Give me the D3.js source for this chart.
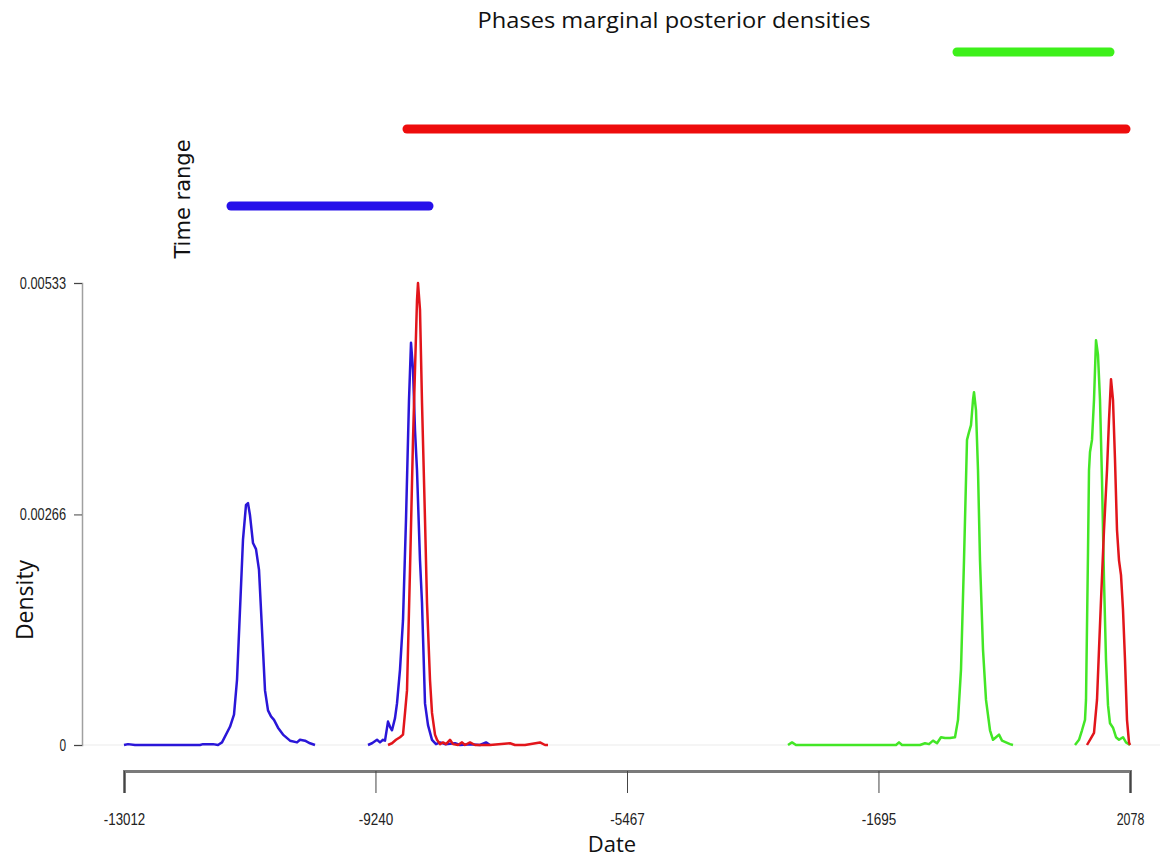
<!DOCTYPE html>
<html><head><meta charset="utf-8">
<script src="https://cdn.jsdelivr.net/npm/d3@7/dist/d3.min.js"></script>
<style>
body{margin:0;background:#fff;}
svg{display:block;}
.tick text{font-family:"Liberation Sans Narrow","Arial Narrow","Liberation Sans",sans-serif;fill:#222;}
</style></head>
<body>
<svg id="c" width="1167" height="860"></svg>
<script>
// ---- Data ----
const xTicks = [-13012, -9240, -5467, -1695, 2078];
const yTicks = [0, 0.00266, 0.00533];
const xDomain = [-13012, 2078];
const yDomain = [0, 0.00533];

// time ranges [start, end]
const rangeBlue  = [-11407, -8437];
const rangeRed   = [-8767, 2018];
const rangeGreen = [-517, 1778];

// densities [date, density]
const blueA = [[-13012,0],[-12952,0.00001],[-12847,0],[-12472,0],[-11872,0],[-11827,0.00001],[-11677,0.00001],[-11602,0],[-11542,0.00003],[-11422,0.00021],[-11362,0.00035],[-11317,0.00075],[-11272,0.00156],[-11227,0.00237],[-11182,0.00277],[-11152,0.00279],[-11122,0.00265],[-11077,0.00233],[-11032,0.00226],[-10987,0.00202],[-10942,0.00133],[-10897,0.00063],[-10852,0.0004],[-10807,0.00033],[-10762,0.00029],[-10702,0.0002],[-10627,0.00012],[-10522,0.00005],[-10417,0.00003],[-10372,0.00006],[-10297,0.00005],[-10222,0.00002],[-10147,0]];
const blueB = [[-9352,0],[-9292,0.00002],[-9217,0.00006],[-9172,0.00003],[-9127,0.00006],[-9097,0.00005],[-9052,0.00027],[-9022,0.00021],[-8992,0.00017],[-8947,0.00031],[-8917,0.00048],[-8872,0.00087],[-8827,0.00144],[-8782,0.0026],[-8737,0.00398],[-8707,0.00464],[-8677,0.00433],[-8647,0.00363],[-8617,0.00317],[-8572,0.00213],[-8542,0.00164],[-8497,0.00048],[-8452,0.00023],[-8392,0.00006],[-8332,0.00001],[-8272,0.00003],[-8197,0.00001],[-8047,0.00002],[-7972,0],[-7822,0.00001],[-7672,0],[-7582,0.00003],[-7522,0]];
const redA = [[-9052,0],[-8992,0.00002],[-8932,0.00006],[-8872,0.00009],[-8827,0.00012],[-8797,0.00037],[-8767,0.00063],[-8722,0.00202],[-8677,0.00352],[-8647,0.00433],[-8617,0.00513],[-8602,0.00533],[-8572,0.00502],[-8542,0.00395],[-8497,0.0026],[-8467,0.00164],[-8422,0.00075],[-8392,0.00037],[-8347,0.00012],[-8317,0.00006],[-8272,0.00001],[-8227,0.00003],[-8182,0.00001],[-8122,0.00006],[-8077,0.00001],[-8002,0],[-7942,0.00003],[-7897,0],[-7822,0.00003],[-7747,0],[-7522,0],[-7222,0.00002],[-7147,0],[-6997,0],[-6772,0.00003],[-6697,0],[-6652,0]];
const greenA = [[-3052,0],[-2992,0.00003],[-2932,0],[-2572,0],[-2122,0],[-1672,0],[-1432,0],[-1387,0.00003],[-1342,0],[-1072,0],[-997,0.00002],[-937,0.00001],[-877,0.00005],[-817,0.00002],[-757,0.00009],[-697,0.00008],[-622,0.00008],[-547,0.00009],[-502,0.00029],[-457,0.00087],[-412,0.00213],[-367,0.00352],[-337,0.00361],[-307,0.00369],[-277,0.00398],[-262,0.00407],[-232,0.00386],[-202,0.00317],[-172,0.00213],[-127,0.0011],[-82,0.00052],[-22,0.00017],[23,0.00006],[68,0.00009],[113,0.00012],[158,0.00005],[218,0.00003],[278,0.00001],[323,0]];
const greenB = [[1253,0],[1313,0.00006],[1358,0.00017],[1403,0.00029],[1418,0.00052],[1448,0.00222],[1463,0.00317],[1478,0.00338],[1508,0.00352],[1538,0.00398],[1568,0.00467],[1598,0.0045],[1628,0.00398],[1658,0.00306],[1688,0.0019],[1718,0.00098],[1748,0.00046],[1778,0.00025],[1823,0.0002],[1868,0.00009],[1913,0.00006],[1973,0.00009],[2018,0.00003],[2078,0]];
const redB = [[1433,0],[1493,0.00008],[1538,0.00014],[1583,0.00052],[1613,0.0011],[1643,0.00167],[1688,0.00248],[1733,0.00317],[1763,0.00375],[1793,0.00422],[1823,0.00398],[1853,0.00329],[1883,0.00248],[1913,0.00213],[1943,0.00196],[1973,0.00156],[2003,0.00098],[2033,0.00029],[2063,0.00003],[2078,0]];

// ---- Drawing ----
const svg = d3.select("#c");
const x = d3.scaleLinear().domain(xDomain).range([124, 1130]);
const y = d3.scaleLinear().domain(yDomain).range([745, 283]);

const BLUE = "#2a16d8", RED = "#e2151b", GREEN = "#43e626";
const BLUEBAR = "#2610ea", REDBAR = "#ee0c0c", GREENBAR = "#3df01a";

// title
svg.append("text").attr("x", 674).attr("y", 28).attr("text-anchor", "middle")
  .attr("font-family", "'Open Sans', sans-serif").attr("font-size", 21)
  .attr("textLength", 393).attr("lengthAdjust", "spacingAndGlyphs")
  .attr("fill", "#111").text("Phases marginal posterior densities");

// time range bars
const bars = [[rangeGreen, 52, GREENBAR], [rangeRed, 129, REDBAR], [rangeBlue, 206, BLUEBAR]];
svg.selectAll("line.bar").data(bars).enter().append("line").attr("class", "bar")
  .attr("x1", d => x(d[0][0])).attr("x2", d => x(d[0][1]))
  .attr("y1", d => d[1]).attr("y2", d => d[1])
  .attr("stroke", d => d[2]).attr("stroke-width", 9).attr("stroke-linecap", "round");

svg.append("text").attr("transform", "translate(190,199) rotate(-90)")
  .attr("text-anchor", "middle").attr("font-family", "'DejaVu Sans', Verdana, sans-serif")
  .attr("font-size", 21).attr("fill", "#111").text("Time range");

// baseline
svg.append("line").attr("x1", 82).attr("x2", 1160).attr("y1", y(0)).attr("y2", y(0))
  .attr("stroke", "#ececec").attr("stroke-width", 1.2);

// y axis
const yAxis = svg.append("g").attr("transform", "translate(82,0)")
  .call(d3.axisLeft(y).tickValues(yTicks).tickSizeOuter(0).tickSize(8).tickPadding(8)
    .tickFormat(d => d === 0 ? "0" : d.toFixed(5)));
yAxis.select(".domain").attr("stroke", "#a0a0a0").attr("stroke-width", 1.5);
yAxis.selectAll(".tick line").attr("stroke", "#444").attr("stroke-width", 1);
yAxis.selectAll(".tick text").style("font-size", "16px").each(function(){
  const t = d3.select(this); const n = t.text().length;
  t.attr("textLength", n * 6.6).attr("lengthAdjust", "spacingAndGlyphs");
});

// x axis
const xAxis = svg.append("g").attr("transform", "translate(0,771)")
  .call(d3.axisBottom(x).tickValues(xTicks).tickSizeOuter(0).tickSize(22).tickPadding(20)
    .tickFormat(d => String(d)));
xAxis.select(".domain").attr("stroke", "#7a7a7a").attr("stroke-width", 3);
xAxis.selectAll(".tick line").attr("stroke", "#444").attr("stroke-width", 1);
xAxis.selectAll(".tick text").style("font-size", "17px").each(function(){
  const t = d3.select(this); const n = t.text().length;
  t.attr("textLength", n * 6.9).attr("lengthAdjust", "spacingAndGlyphs");
});

// axis titles
svg.append("text").attr("x", 612).attr("y", 852).attr("text-anchor", "middle")
  .attr("font-family", "'Open Sans', sans-serif").attr("font-size", 22).attr("fill", "#111").text("Date");
svg.append("text").attr("transform", "translate(33,600) rotate(-90)").attr("text-anchor", "middle")
  .attr("font-family", "'Open Sans', sans-serif").attr("font-size", 23).attr("fill", "#111").text("Density");

// density curves
const line = d3.line().x(d => x(d[0])).y(d => y(d[1]));
const curves = [[blueA, BLUE], [greenA, GREEN], [greenB, GREEN], [blueB, BLUE], [redA, RED], [redB, RED]];
svg.selectAll("path.curve").data(curves).enter().append("path").attr("class", "curve")
  .attr("d", d => line(d[0])).attr("fill", "none").attr("stroke", d => d[1])
  .attr("stroke-width", 2.5).attr("stroke-linejoin", "round");
</script>
</body></html>
